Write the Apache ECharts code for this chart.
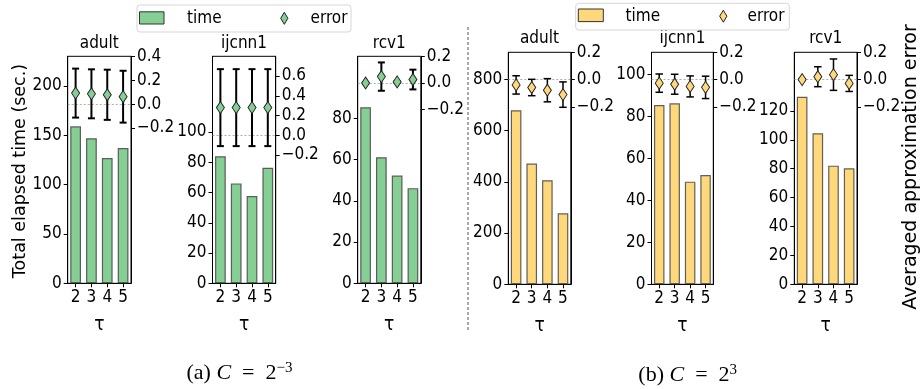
<!DOCTYPE html>
<html>
<head>
<meta charset="utf-8">
<script src="https://cdn.jsdelivr.net/npm/echarts@6/dist/echarts.min.js"></script>
<style>
html,body{margin:0;padding:0;background:#fff;}
#c{width:920px;height:389px;}
</style>
</head>
<body>
<div id="c"></div>
<script>
// ---------- data ----------
const tauLabels = ['2', '3', '4', '5'];
const datasetNames = ['adult', 'ijcnn1', 'rcv1'];
const seriesNames = ['time', 'error'];

// (a) C = 2^-3
const timeA_adult  = [159, 147, 127, 137];
const timeA_ijcnn1 = [84, 66, 57.7, 76.4];
const timeA_rcv1   = [85.3, 61.1, 52.2, 46.1];
const errA_adult   = [0.092, 0.086, 0.078, 0.062];
const stdA_adult   = [0.205, 0.205, 0.21, 0.217];
const errA_ijcnn1  = [0.28, 0.28, 0.28, 0.28];
const stdA_ijcnn1  = [0.39, 0.39, 0.39, 0.39];
const errA_rcv1    = [0.0, 0.048, 0.008, 0.026];
const stdA_rcv1    = [0.006, 0.106, 0.006, 0.074];

// (b) C = 2^3
const timeB_adult  = [679, 471, 406, 277];
const timeB_ijcnn1 = [85.4, 86.2, 48.9, 52.0];
const timeB_rcv1   = [129.8, 104.5, 82.1, 80.3];
const errB_adult   = [-0.039, -0.058, -0.078, -0.11];
const stdB_adult   = [0.067, 0.06, 0.085, 0.093];
const errB_ijcnn1  = [-0.026, -0.034, -0.05, -0.057];
const stdB_ijcnn1  = [0.067, 0.073, 0.077, 0.082];
const errB_rcv1    = [0.0, 0.021, 0.036, -0.028];
const stdB_rcv1    = [0.006, 0.073, 0.115, 0.059];

// tick labels
const timeTicksA_adult  = [0, 50, 100, 150, 200];
const timeTicksA_ijcnn1 = [0, 20, 40, 60, 80, 100];
const timeTicksA_rcv1   = [0, 20, 40, 60, 80];
const timeTicksB_adult  = [0, 200, 400, 600, 800];
const timeTicksB_ijcnn1 = [0, 20, 40, 60, 80, 100];
const timeTicksB_rcv1   = [0, 20, 40, 60, 80, 100, 120];
const errTicksA_adult   = [-0.2, 0, 0.2, 0.4];
const errTicksA_ijcnn1  = [-0.2, 0, 0.2, 0.4, 0.6];
const errTicksA_rcv1    = [-0.2, 0, 0.2];
const errTicksB         = [-0.2, 0, 0.2];

// ---------- styling / layout ----------
const FONT = 'DejaVu Sans';
const TICKFONT = "'DejaVu Sans Condensed', 'DejaVu Sans'";
const SERIF = 'Liberation Serif';
const GREEN = '#86cf94';
const YELLOW = '#fed87a';

const panels = [
  {g:{left:67.7, top:56.3, width:63.3, height:227}, tx:99.3, ty:44, name:datasetNames[0],
   time:timeA_adult, tMax:230, tTicks:timeTicksA_adult, err:errA_adult, std:stdA_adult,
   eMin:-1.5, eMax:0.4, eTicks:errTicksA_adult, color:GREEN, lw:2, cap:7},
  {g:{left:212.5, top:56.3, width:63.2, height:227}, tx:244, ty:44, name:datasetNames[1],
   time:timeA_ijcnn1, tMax:150, tTicks:timeTicksA_ijcnn1, err:errA_ijcnn1, std:stdA_ijcnn1,
   eMin:-1.5, eMax:0.8, eTicks:errTicksA_ijcnn1, color:GREEN, lw:2, cap:7},
  {g:{left:357.7, top:56.3, width:63.1, height:227}, tx:389.3, ty:44, name:datasetNames[2],
   time:timeA_rcv1, tMax:110, tTicks:timeTicksA_rcv1, err:errA_rcv1, std:stdA_rcv1,
   eMin:-1.5, eMax:0.2, eTicks:errTicksA_rcv1, color:GREEN, lw:2, cap:7},
  {g:{left:508.3, top:52.3, width:62.5, height:232}, tx:539.5, ty:38.5, name:datasetNames[0],
   time:timeB_adult, tMax:905, tTicks:timeTicksB_adult, err:errB_adult, std:stdB_adult,
   eMin:-1.5, eMax:0.2, eTicks:errTicksB, color:YELLOW, lw:1.5, cap:7.5},
  {g:{left:651.5, top:52.3, width:61.8, height:232}, tx:682.4, ty:38.5, name:datasetNames[1],
   time:timeB_ijcnn1, tMax:110.5, tTicks:timeTicksB_ijcnn1, err:errB_ijcnn1, std:stdB_ijcnn1,
   eMin:-1.5, eMax:0.2, eTicks:errTicksB, color:YELLOW, lw:1.5, cap:7.5},
  {g:{left:794.3, top:52.3, width:62.7, height:232}, tx:825.7, ty:38.5, name:datasetNames[2],
   time:timeB_rcv1, tMax:160.5, tTicks:timeTicksB_rcv1, err:errB_rcv1, std:stdB_rcv1,
   eMin:-1.5, eMax:0.2, eTicks:errTicksB, color:YELLOW, lw:1.5, cap:7.5}
];

function fmtErr(v) {
  const s = Math.abs(v).toFixed(1);
  return (v < -1e-9 ? '\u2212' : '') + s;
}

function errRenderer(capW, lw) {
  return function (params, api) {
    const x = api.value(0);
    const lo = api.coord([x, api.value(1)]);
    const hi = api.coord([x, api.value(2)]);
    const st = {stroke: '#000', lineWidth: lw};
    return {
      type: 'group',
      children: [
        {type: 'line', shape: {x1: lo[0], y1: lo[1], x2: hi[0], y2: hi[1]}, style: st},
        {type: 'line', shape: {x1: lo[0] - capW / 2, y1: lo[1], x2: lo[0] + capW / 2, y2: lo[1]}, style: st},
        {type: 'line', shape: {x1: hi[0] - capW / 2, y1: hi[1], x2: hi[0] + capW / 2, y2: hi[1]}, style: st}
      ]
    };
  };
}

const grid = [], xAxis = [], yAxis = [], series = [], graphic = [];
const axisLineStyle = {color: '#000', width: 1};
const lblStyle = {color: '#000', fontSize: 17, fontFamily: TICKFONT};

panels.forEach(function (p, i) {
  grid.push(Object.assign({show: true, borderColor: '#000', borderWidth: 1, backgroundColor: 'transparent'}, p.g));
  xAxis.push({
    type: 'category', gridIndex: i, data: tauLabels,
    axisLine: {show: true, lineStyle: axisLineStyle},
    axisTick: {show: true, alignWithLabel: true, length: 4, lineStyle: axisLineStyle},
    axisLabel: Object.assign({margin: 6}, lblStyle),
    splitLine: {show: false},
    name: '\u03c4', nameLocation: 'middle', nameGap: 32,
    nameTextStyle: {color: '#000', fontSize: 19, fontFamily: TICKFONT}
  });
  yAxis.push({
    type: 'value', gridIndex: i, position: 'left', min: 0, max: p.tMax,
    axisLine: {show: true, lineStyle: axisLineStyle},
    axisTick: {show: true, length: 4, lineStyle: axisLineStyle, customValues: p.tTicks},
    axisLabel: Object.assign({margin: 6, customValues: p.tTicks}, lblStyle),
    splitLine: {show: false}
  });
  yAxis.push({
    type: 'value', gridIndex: i, position: 'right', min: p.eMin, max: p.eMax,
    alignTicks: false,
    axisLine: {show: true, lineStyle: axisLineStyle},
    axisTick: {show: true, length: 4, lineStyle: axisLineStyle, customValues: p.eTicks},
    axisLabel: Object.assign({margin: 6, customValues: p.eTicks, formatter: fmtErr}, lblStyle),
    splitLine: {show: false}
  });
  series.push({
    name: seriesNames[0], type: 'bar', xAxisIndex: i, yAxisIndex: 2 * i,
    data: p.time, barWidth: '68%',
    itemStyle: {color: p.color, borderColor: 'rgba(70,70,70,0.85)', borderWidth: 1.2},
    z: 2
  });
  series.push({
    type: 'custom', xAxisIndex: i, yAxisIndex: 2 * i + 1,
    data: p.err.map(function (m, k) { return [k, m - p.std[k], m + p.std[k]]; }),
    encode: {x: 0, y: [1, 2]},
    renderItem: errRenderer(p.cap, p.lw),
    z: 3
  });
  series.push({
    name: seriesNames[1], type: 'scatter', xAxisIndex: i, yAxisIndex: 2 * i + 1,
    data: p.err, symbol: 'diamond', symbolSize: [8, 12],
    itemStyle: {color: p.color, borderColor: '#222', borderWidth: 1, opacity: 1},
    z: 4,
    markLine: {
      silent: true, symbol: 'none', label: {show: false},
      lineStyle: {color: '#999', type: [2, 2], width: 0.8},
      data: [{yAxis: 0}], z: 1
    }
  });
  graphic.push({
    type: 'text', x: p.tx, y: p.ty,
    style: {text: p.name, fontSize: 17, fontFamily: TICKFONT, fill: '#000', textAlign: 'center', textVerticalAlign: 'middle'}
  });
});

// legends (drawn as graphics to match icon shapes)
function legendGroup(bx, by, bw, bh, rx, ry, rw, rh, tX, dX, eX, cy, color) {
  const diamond = {
    type: 'polygon',
    shape: {points: [[dX, cy - 6], [dX + 3.6, cy], [dX, cy + 6], [dX - 3.6, cy]]},
    style: {fill: color, stroke: '#222', lineWidth: 1}
  };
  return [
    {type: 'rect', shape: {x: bx, y: by, width: bw, height: bh, r: 3}, style: {fill: '#fff', stroke: '#d6d6d6', lineWidth: 1}},
    {type: 'rect', shape: {x: rx, y: ry, width: rw, height: rh}, style: {fill: color, stroke: '#333', lineWidth: 1}},
    {type: 'text', x: tX, y: cy, style: {text: seriesNames[0], fontSize: 17, fontFamily: TICKFONT, fill: '#000', textVerticalAlign: 'middle'}},
    diamond,
    {type: 'text', x: eX, y: cy, style: {text: seriesNames[1], fontSize: 17, fontFamily: TICKFONT, fill: '#000', textVerticalAlign: 'middle'}}
  ];
}
legendGroup(137, 5, 214, 27, 139.5, 11.8, 24.5, 12.2, 187, 284.3, 310.5, 18.3, GREEN).forEach(function (g) { graphic.push(g); });
legendGroup(575.7, 3.3, 213.6, 26.7, 578.3, 9, 25, 12.6, 625.5, 723.3, 747.5, 16.2, YELLOW).forEach(function (g) { graphic.push(g); });

// separator
graphic.push({type: 'line', shape: {x1: 468, y1: 27, x2: 468, y2: 330}, style: {stroke: '#555', lineWidth: 1, lineDash: [3, 2]}});

// axis titles
graphic.push({type: 'text', x: 20, y: 171, rotation: Math.PI / 2,
  style: {text: 'Total elapsed time (sec.)', fontSize: 17.5, fontFamily: FONT, fill: '#000', textAlign: 'center', textVerticalAlign: 'middle'}});
graphic.push({type: 'text', x: 911, y: 167, rotation: Math.PI / 2,
  style: {text: 'Averaged approximation error', fontSize: 19, fontFamily: FONT, fill: '#000', textAlign: 'center', textVerticalAlign: 'middle'}});

// captions
function caption(x, y, label, exp) {
  return {
    type: 'text', x: x, y: y,
    style: {
      text: '{n|' + label + ' }{i|C}{n|  =  2}{s|' + exp + '}',
      textVerticalAlign: 'middle', fill: '#000',
      rich: {
        n: {fontFamily: SERIF, fontSize: 22, lineHeight: 24, fill: '#000'},
        i: {fontFamily: SERIF, fontSize: 22, lineHeight: 24, fontStyle: 'italic', fill: '#000'},
        s: {fontFamily: SERIF, fontSize: 15, lineHeight: 24, verticalAlign: 'top', fill: '#000', padding: [0, 0, 6, 0]}
      }
    }
  };
}
graphic.push(caption(186.5, 373, '(a)', '\u22123'));
graphic.push(caption(638.3, 375, '(b)', '3'));

const chart = echarts.init(document.getElementById('c'), null, {renderer: 'canvas'});
chart.setOption({
  animation: false,
  backgroundColor: '#fff',
  textStyle: {fontFamily: FONT},
  grid: grid, xAxis: xAxis, yAxis: yAxis, series: series, graphic: graphic
});
</script>
</body>
</html>
